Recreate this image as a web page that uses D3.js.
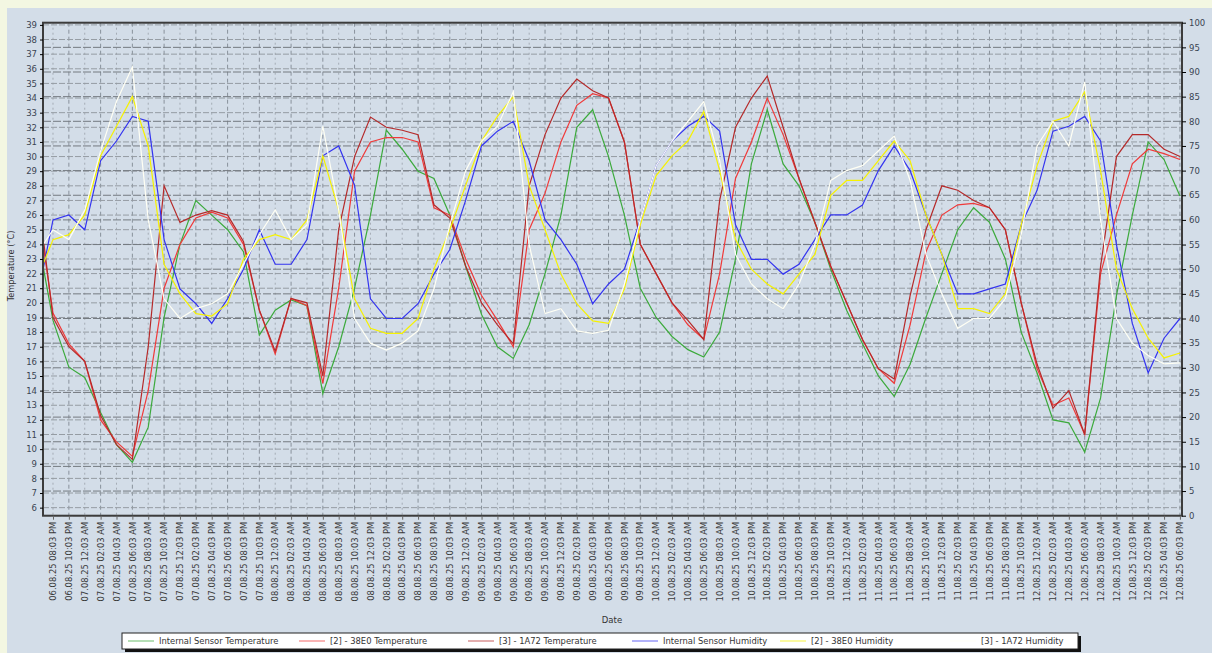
<!DOCTYPE html>
<html>
<head>
<meta charset="utf-8">
<script src="https://cdn.jsdelivr.net/npm/d3@7"></script>
<style>
  body { margin: 0; background: #f3f7e2; }
  svg { display: block; font-family: "DejaVu Sans", Verdana, sans-serif; }
</style>
</head>
<body>
<svg id="chart" width="1212" height="653"></svg>
<script>
// hours after the first tick (06.08.25 08:03 PM)
var hours = [-1.25, 0, 2, 4, 6, 8, 10, 12, 14, 16, 18, 20, 22, 24, 26, 28, 30, 32, 34, 36, 38, 40,
  42, 44, 46, 48, 50, 52, 54, 56, 58, 60, 62, 64, 66, 68, 70, 72, 74, 76, 78, 80, 82, 84, 86, 88,
  90, 92, 94, 96, 98, 100, 102, 104, 106, 108, 110, 112, 114, 116, 118, 120, 122, 124, 126, 128,
  130, 132, 134, 136, 138, 140, 142];

var internalTemp = [22.5, 18.8, 15.6, 14.9, 12.5, 10.3, 9.1, 11.5, 19, 24, 27, 26, 25, 23.5, 17.8, 19.5,
  20.2, 19.8, 13.8, 17, 21, 26, 31.8, 30.5, 29, 28.5, 26, 22.5, 19.2, 17, 16.2, 18.5, 22, 26, 32, 33.2,
  30, 26, 21, 19, 17.7, 16.8, 16.3, 18, 23, 29.5, 33.2, 29.5, 28, 25.5, 22.3, 19.5, 17.2, 15, 13.6, 15.8,
  19, 22, 25, 26.5, 25.5, 23, 18, 15.2, 12, 11.8, 9.8, 13.5, 20.5, 26, 31, 29.8, 27.3];
var temp38E0 = [24, 19.3, 17.2, 16, 12, 10.5, 9.5, 14, 21, 24, 25.8, 26.2, 25.8, 24, 19.5, 16.5,
  20.3, 19.8, 14.5, 21, 29, 31, 31.3, 31.3, 31, 26.5, 26, 23, 20.5, 18.8, 17, 25, 27.5, 31, 33.5, 34.3,
  34, 31, 24, 22, 20, 18.5, 17.5, 22, 28.5, 31, 34, 31.5, 28.5, 25.5, 22.5, 20, 17.5, 15.5, 14.5, 18.5,
  23.5, 26, 26.7, 26.8, 26.5, 25, 20, 15.5, 13, 13.5, 11, 22, 26, 29.5, 30.5, 30.2, 29.8];
var temp1A72 = [24.5, 19, 17, 16, 12.3, 10.3, 9.3, 17, 28, 25.5, 26, 26.3, 26, 24.2, 19.5, 16.7,
  20.3, 20, 15, 25, 30, 32.7, 32, 31.8, 31.5, 26.7, 25.8, 22.5, 20, 18.5, 17.2, 28, 31.5, 34, 35.3, 34.5,
  34, 31, 24, 22, 20, 18.8, 17.5, 27, 32, 34, 35.5, 32, 28.5, 25.5, 22.5, 20, 17.5, 15.5, 14.8, 20.5,
  25, 28, 27.7, 27, 26.5, 25, 20, 15.8, 12.8, 14, 11, 22.5, 30, 31.5, 31.5, 30.5, 30];
var internalHum = [50, 60, 61, 58, 72, 76, 81, 80, 56, 46, 43, 39, 44, 50, 58, 51, 51, 56, 73, 75,
  67, 44, 40, 40, 43, 49, 54, 64, 75, 78, 80, 72, 60, 56, 51, 43, 47, 50, 60, 71, 76, 79, 81, 78, 59,
  52, 52, 49, 51, 56, 61, 61, 63, 70, 75, 70, 61, 53, 45, 45, 46, 47, 59, 66, 78, 79, 81, 76, 55, 39,
  29, 36, 40];
var hum38E0 = [51, 56, 57, 61, 73, 79, 85, 75, 51, 45, 41, 40.5, 43, 52, 56, 57, 56, 60, 73, 62, 44,
  38, 37, 37, 40, 50, 58, 67, 76, 81, 85, 67, 58, 49, 43, 39.5, 39, 46, 59, 69, 73, 76, 82, 70, 56, 50,
  47, 45, 49, 53, 65, 68, 68, 72, 76, 72, 61, 53, 42, 42, 41, 45, 59, 71, 80, 81, 86, 70, 50, 42, 36,
  32, 33];
var hum1A72 = [55, 58, 56, 62, 74, 84, 91, 60, 44, 40, 42, 43, 45, 51, 57, 62, 56, 59, 79, 62, 40,
  35, 33.6, 35, 37.5, 46, 59, 70, 76, 79, 86, 55, 41, 42, 37.5, 37, 37.6, 47, 60, 71, 76, 80, 84, 72,
  53, 47, 44, 42, 47, 55, 68, 70, 71, 74, 77, 68, 53, 45, 38, 40, 40, 44, 57, 75, 80, 75, 88, 60, 40,
  35, 32.5, 30.8, 31];

var seriesNames = ["Internal Sensor Temperature", "[2] - 38E0 Temperature", "[3] - 1A72 Temperature",
  "Internal Sensor Humidity", "[2] - 38E0 Humidity", "[3] - 1A72 Humidity"];
var seriesColors = ["#3caa3c", "#f03a3a", "#b52a2a", "#3434f0", "#f6f200", "#fffff4"];
var seriesData = [internalTemp, temp38E0, temp1A72, internalHum, hum38E0, hum1A72];
var seriesAxis = ["left", "left", "left", "right", "right", "right"];

var startTime = new Date(2025, 7, 6, 20, 3);
var tickHours = d3.range(0, 143, 2);
var tempTicks = d3.range(6, 40);
var humTicks = d3.range(0, 101, 5);

var svg = d3.select("#chart");
var W = 1212, H = 653;
var plot = {left: 43, top: 22.7, right: 1182, bottom: 515.7};

svg.append("rect").attr("x", 7).attr("y", 8).attr("width", W - 7).attr("height", H - 8)
  .attr("fill", "#d3dde8");

var x = d3.scaleLinear().domain([-1.26, 142.26]).range([plot.left, plot.right]);
var yL = d3.scaleLinear().domain([5.45, 39.15]).range([plot.bottom, plot.top]);
var yR = d3.scaleLinear().domain([0, 100]).range([plot.bottom, plot.top]);

var grid = svg.append("g");
// vertical grid
grid.selectAll(".vg").data(tickHours).enter().append("line")
  .attr("x1", d => x(d)).attr("x2", d => x(d))
  .attr("y1", plot.top).attr("y2", plot.bottom)
  .attr("stroke", (d, i) => i % 2 ? "#88919b" : "#a4acb5")
  .attr("stroke-width", 1)
  .attr("stroke-dasharray", (d, i) => i % 2 ? "4,3" : "2,3");
// horizontal grid for temperature axis
grid.selectAll(".hg").data(tempTicks).enter().append("line")
  .attr("x1", plot.left).attr("x2", plot.right)
  .attr("y1", d => yL(d)).attr("y2", d => yL(d))
  .attr("stroke", "#959ca3").attr("stroke-dasharray", "6,2");
// horizontal grid for humidity axis
grid.selectAll(".hg2").data(humTicks).enter().append("line")
  .attr("x1", plot.left).attr("x2", plot.right)
  .attr("y1", d => yR(d)).attr("y2", d => yR(d))
  .attr("stroke", "#747a80").attr("stroke-dasharray", "8,2");

// series
seriesData.forEach(function(vals, i) {
  var ys = seriesAxis[i] === "left" ? yL : yR;
  var line = d3.line().x((d, k) => x(hours[k])).y(d => ys(d));
  svg.append("path").datum(vals)
    .attr("fill", "none")
    .attr("stroke", seriesColors[i])
    .attr("stroke-width", 1.2)
    .attr("d", line);
});

// frame
svg.append("rect").attr("x", plot.left).attr("y", plot.top)
  .attr("width", plot.right - plot.left).attr("height", plot.bottom - plot.top)
  .attr("fill", "none").attr("stroke", "#3c3c3c").attr("stroke-width", 2);

// axes
var fmt = d3.timeFormat("%d.%m.%y %I:%M %p");
var xAxis = d3.axisBottom(x).tickValues(tickHours).tickSize(4)
  .tickFormat(h => fmt(new Date(startTime.getTime() + h * 3600000)));
var gx = svg.append("g").attr("transform", "translate(0," + plot.bottom + ")").call(xAxis);
gx.select(".domain").remove();
gx.selectAll("line").attr("stroke", "#666");
gx.selectAll("text")
  .attr("transform", "rotate(-90)")
  .attr("text-anchor", "end")
  .attr("x", -6).attr("y", 0).attr("dy", "0.32em")
  .attr("font-family", "DejaVu Sans")
  .attr("font-size", 8.4).attr("fill", "#3a3a3a");

var gl = svg.append("g").attr("transform", "translate(" + plot.left + ",0)")
  .call(d3.axisLeft(yL).tickValues(tempTicks).tickSize(3).tickFormat(d3.format("d")));
gl.select(".domain").remove();
gl.selectAll("text").attr("font-family", "DejaVu Sans").attr("font-size", 8.5).attr("fill", "#3a4452");

var gr = svg.append("g").attr("transform", "translate(" + plot.right + ",0)")
  .call(d3.axisRight(yR).tickValues(humTicks).tickSize(4).tickFormat(d3.format("d")));
gr.select(".domain").remove();
gr.selectAll("text").attr("font-family", "DejaVu Sans").attr("font-size", 8.5).attr("fill", "#3a4452");

svg.append("text").attr("transform", "translate(14,266) rotate(-90)")
  .attr("text-anchor", "middle").attr("font-size", 8.2).attr("fill", "#333")
  .text("Temperature (°C)");
svg.append("text").attr("x", 612).attr("y", 623)
  .attr("text-anchor", "middle").attr("font-size", 8.5).attr("fill", "#333").text("Date");

// legend
var lg = svg.append("g");
lg.append("rect").attr("x", 125).attr("y", 636).attr("width", 956).attr("height", 16).attr("fill", "#111");
lg.append("rect").attr("x", 122).attr("y", 633).attr("width", 956).attr("height", 16)
  .attr("fill", "#fff").attr("stroke", "#222").attr("stroke-width", 1);
var legendX = [128, 299, 468, 632, 780, 950];
seriesNames.forEach(function(name, i) {
  lg.append("line").attr("x1", legendX[i]).attr("x2", legendX[i] + 26)
    .attr("y1", 641).attr("y2", 641).attr("stroke", seriesColors[i])
    .attr("stroke-opacity", 0.5).attr("stroke-width", 1.5);
  lg.append("text").attr("x", legendX[i] + 31).attr("y", 644)
    .attr("font-size", 8.4).attr("fill", "#333").text(name);
});
</script>
</body>
</html>
